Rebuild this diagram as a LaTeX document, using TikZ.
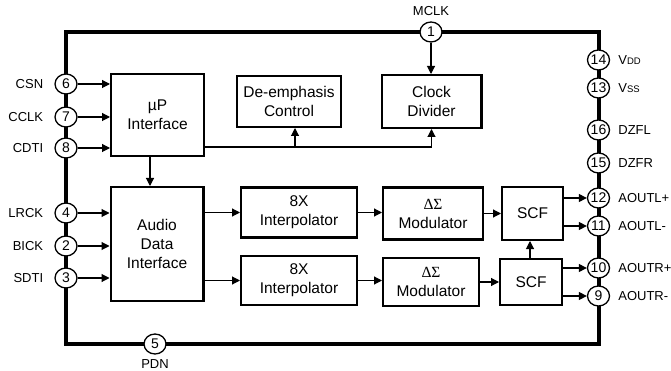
\documentclass[tikz,border=0pt]{standalone}
\usepackage{fontspec}
\setmainfont{Liberation Sans}
\newfontfamily\greekserif{Liberation Serif}
\usetikzlibrary{arrows.meta,shapes.geometric,calc}
\begin{document}
\begin{tikzpicture}[x=1pt,y=-1pt,
  box/.style={draw, line width=2.4pt, inner sep=0pt, align=center, font=\fontsize{15.5}{19}\selectfont},
  pin/.style={draw, ellipse, line width=1.3pt, fill=white, minimum width=22pt, minimum height=20pt, inner sep=0pt, font=\fontsize{14}{14}\selectfont},
  lbl/.style={inner sep=0pt, font=\fontsize{13}{13}\selectfont},
  arr/.style={line width=1.1pt, -{Triangle[length=8pt,width=8pt]}},
  frame/.style={draw, line width=3.6pt, inner sep=0pt}]
\useasboundingbox (0,0) rectangle (671,371);
% chip outline
\node[frame, minimum width=533pt, minimum height=312pt] (chip) at (332.5,188) {};
% blocks
\node[box, minimum width=92.6pt, minimum height=81.6pt] (up) at (157.5,115) {µP\\Interface};
\node[box, minimum width=103.6pt, minimum height=50.6pt] (de) at (289,101.5) {De-emphasis\\Control};
\node[box, minimum width=99.6pt, minimum height=52.6pt] (ck) at (431.5,101.5) {Clock\\Divider};
\node[box, minimum width=92.6pt, minimum height=113.6pt] (ai) at (157,244) {Audio\\Data\\Interface};
\node[box, minimum width=115.6pt, minimum height=49.6pt] (i1) at (299,212.5) {8X\\Interpolator};
\node[box, minimum width=115.6pt, minimum height=48.6pt] (i2) at (299,280.5) {8X\\Interpolator};
\node[box, minimum width=99.6pt, minimum height=51.6pt] (m1) at (433,213.5) {{\greekserif ΔΣ}\\Modulator};
\node[box, minimum width=95.6pt, minimum height=47.6pt] (m2) at (431,282) {{\greekserif ΔΣ}\\Modulator};
\node[box, minimum width=60.6pt, minimum height=52.6pt] (s1) at (532.5,213.5) {SCF};
\node[box, minimum width=61.6pt, minimum height=45.6pt] (s2) at (531,282) {SCF};
% pins
\node[pin] (p1) at (431,32) {1};
\node[pin] (p5) at (155,344) {5};
\node[pin] (p6) at (66,84) {6};
\node[pin] (p7) at (66,117) {7};
\node[pin] (p8) at (66,148) {8};
\node[pin] (p4) at (66,213) {4};
\node[pin] (p2) at (66,246) {2};
\node[pin] (p3) at (66,278) {3};
\node[pin] (p14) at (598.5,60) {14};
\node[pin] (p13) at (598.5,88) {13};
\node[pin] (p16) at (598.5,130) {16};
\node[pin] (p15) at (598.5,163) {15};
\node[pin] (p12) at (598.5,198) {12};
\node[pin] (p11) at (598.5,226) {11};
\node[pin] (p10) at (598.5,268) {10};
\node[pin] (p9) at (598.5,296) {9};
% pin labels
\node[lbl, anchor=south] (lmclk) at ($(p1.north)+(0,-5.5)$) {MCLK};
\node[lbl, anchor=north] (lpdn) at ($(p5.south)+(0,4.5)$) {PDN};
\node[lbl, anchor=east] (lcsn) at ($(p6.west)+(-11,0)$) {CSN};
\node[lbl, anchor=east] (lcclk) at ($(p7.west)+(-11,0)$) {CCLK};
\node[lbl, anchor=east] (lcdti) at ($(p8.west)+(-11,0)$) {CDTI};
\node[lbl, anchor=east] (llrck) at ($(p4.west)+(-11,0)$) {LRCK};
\node[lbl, anchor=east] (lbick) at ($(p2.west)+(-11,0)$) {BICK};
\node[lbl, anchor=east] (lsdti) at ($(p3.west)+(-11,0)$) {SDTI};
\node[lbl, anchor=west] (lvdd) at ($(p14.east)+(8,0)$) {V{\fontsize{9.5}{10}\selectfont DD}};
\node[lbl, anchor=west] (lvss) at ($(p13.east)+(8,0)$) {V{\fontsize{9.5}{10}\selectfont SS}};
\node[lbl, anchor=west] (ldzfl) at ($(p16.east)+(8,0)$) {DZFL};
\node[lbl, anchor=west] (ldzfr) at ($(p15.east)+(8,0)$) {DZFR};
\node[lbl, anchor=west] (laoutlp) at ($(p12.east)+(8,0)$) {AOUTL+};
\node[lbl, anchor=west] (laoutlm) at ($(p11.east)+(8,0)$) {AOUTL-};
\node[lbl, anchor=west] (laoutrp) at ($(p10.east)+(8,0)$) {AOUTR+};
\node[lbl, anchor=west] (laoutrm) at ($(p9.east)+(8,0)$) {AOUTR-};
% connectors
\foreach \p in {p6,p7,p8} \draw[arr] (\p.east) -- (\p.east -| up.west);
\foreach \p in {p4,p2,p3} \draw[arr] (\p.east) -- (\p.east -| ai.west);
\draw[arr] (p1) -- (p1 |- ck.north);
\coordinate (cy) at (0,147);
\coordinate (dx) at (295,0);
\coordinate (ux) at (150,0);
\coordinate (sx) at (530,0);
\draw[arr] (up.east |- cy) -- (ck.south |- cy) -- (ck.south);
\draw[arr] (dx |- cy) -- (dx |- de.south);
\draw[arr] (ux |- up.south) -- (ux |- ai.north);
\draw[arr] (ai.east |- i1.west) -- (i1.west);
\draw[arr] (ai.east |- i2.west) -- (i2.west);
\draw[arr] (i1.east) -- (i1.east -| m1.west);
\draw[arr] (i2.east) -- (i2.east -| m2.west);
\draw[arr] (m1.east) -- (m1.east -| s1.west);
\draw[arr] (m2.east) -- (m2.east -| s2.west);
\draw[arr] (sx |- s2.north) -- (sx |- s1.south);
\draw[arr] (s1.east |- p12) -- (p12.west);
\draw[arr] (s1.east |- p11) -- (p11.west);
\draw[arr] (s2.east |- p10) -- (p10.west);
\draw[arr] (s2.east |- p9) -- (p9.west);
\end{tikzpicture}
\end{document}
